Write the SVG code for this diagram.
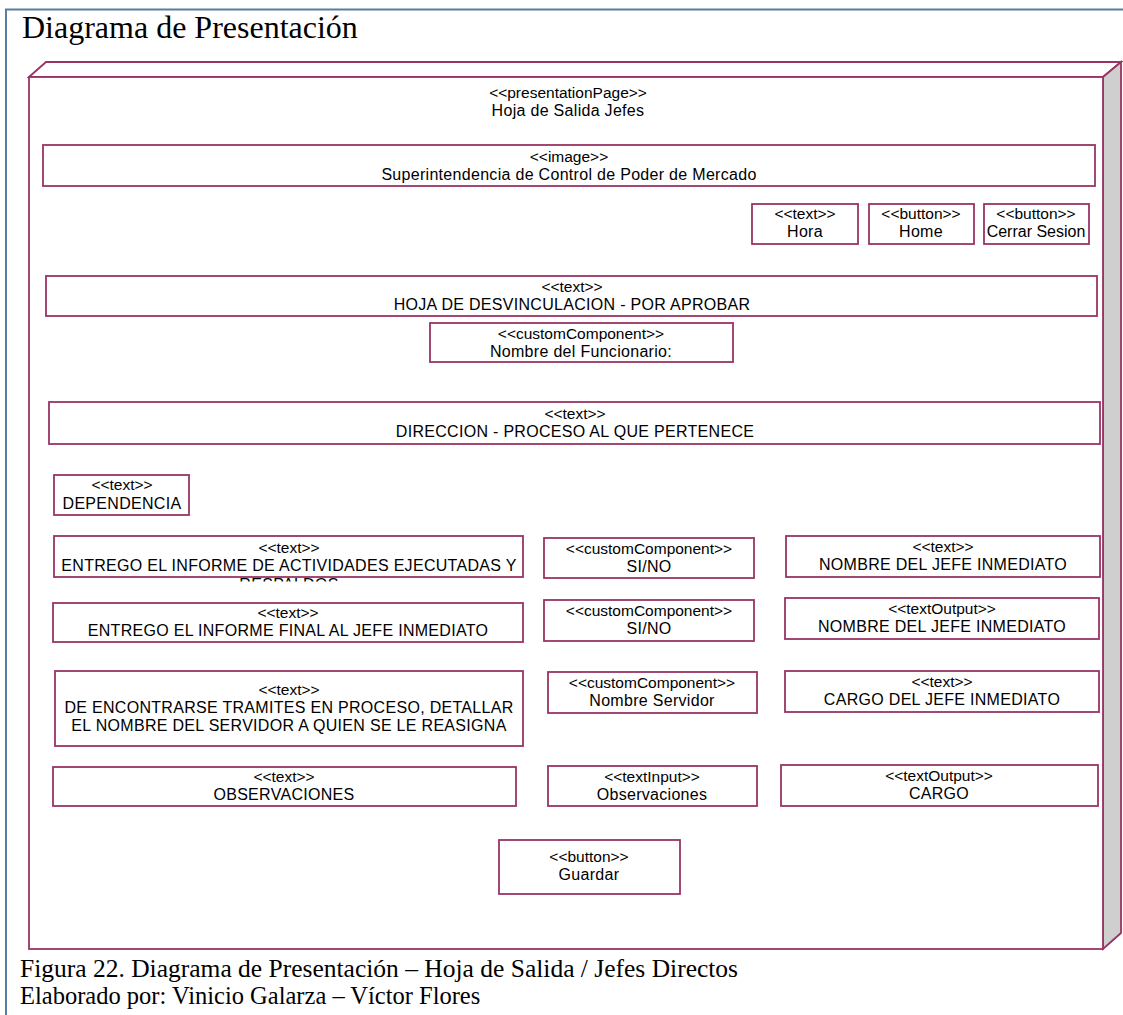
<svg xmlns="http://www.w3.org/2000/svg" width="1123" height="1015" viewBox="0 0 1123 1015">
<style>
.box{fill:#ffffff;stroke:#993366;stroke-width:1.8}
.s{font-family:"Liberation Sans",Arial,sans-serif;font-size:15.5px;fill:#000;text-anchor:middle}
.n{font-family:"Liberation Sans",Arial,sans-serif;font-size:16px;letter-spacing:0.3px;fill:#000;text-anchor:middle}
.cap{font-family:"Liberation Serif","Times New Roman",serif;fill:#000}
</style>
<defs>
<clipPath id="clipE"><rect x="40" y="520" width="500" height="61.5"/></clipPath>
</defs>
<rect x="0" y="0" width="1123" height="1015" fill="#ffffff"/>
<g id="frame">
<path d="M6,1015 V9.5 H1123" fill="none" stroke="#5a7ba3" stroke-width="2"/>
</g>
<text class="cap" x="22" y="38" font-size="32">Diagrama de Presentación</text>
<g id="page">
<polygon points="29,77 46,62 1121,62 1103,77" fill="#ffffff" stroke="#993366" stroke-width="1.8"/>
<polygon points="1103,77 1121,62 1121,933 1103,949" fill="#cfcfcf" stroke="#993366" stroke-width="1.8"/>
<rect x="29" y="77" width="1074" height="872" class="box"/>
<text class="s" x="568" y="98">&lt;&lt;presentationPage&gt;&gt;</text>
<text class="n" x="568" y="116">Hoja de Salida Jefes</text>
</g>
<g id="n_image">
<rect class="box" x="43" y="145" width="1052" height="41"/>
<text class="s" x="569" y="162">&lt;&lt;image&gt;&gt;</text>
<text class="n" x="569" y="180">Superintendencia de Control de Poder de Mercado</text>
</g>
<g id="n_hora">
<rect class="box" x="752" y="204" width="106" height="40"/>
<text class="s" x="805" y="219">&lt;&lt;text&gt;&gt;</text>
<text class="n" x="805" y="237">Hora</text>
</g>
<g id="n_home">
<rect class="box" x="869" y="204" width="105" height="40"/>
<text class="s" x="921" y="219">&lt;&lt;button&gt;&gt;</text>
<text class="n" x="921" y="237">Home</text>
</g>
<g id="n_cerrar">
<rect class="box" x="984" y="204" width="105" height="40"/>
<text class="s" x="1036" y="219">&lt;&lt;button&gt;&gt;</text>
<text class="n" x="1036" y="237" style="letter-spacing:0">Cerrar Sesion</text>
</g>
<g id="n_hoja">
<rect class="box" x="46" y="276" width="1051" height="40"/>
<text class="s" x="572" y="292">&lt;&lt;text&gt;&gt;</text>
<text class="n" x="572" y="310">HOJA DE DESVINCULACION - POR APROBAR</text>
</g>
<g id="n_funcionario">
<rect class="box" x="430" y="323" width="303" height="39"/>
<text class="s" x="581" y="339">&lt;&lt;customComponent&gt;&gt;</text>
<text class="n" x="581" y="357">Nombre del Funcionario:</text>
</g>
<g id="n_direccion">
<rect class="box" x="49" y="402" width="1051" height="42"/>
<text class="s" x="575" y="419">&lt;&lt;text&gt;&gt;</text>
<text class="n" x="575" y="437">DIRECCION - PROCESO AL QUE PERTENECE</text>
</g>
<g id="n_dependencia">
<rect class="box" x="54" y="475" width="135" height="40"/>
<text class="s" x="122" y="490">&lt;&lt;text&gt;&gt;</text>
<text class="n" x="122" y="509">DEPENDENCIA</text>
</g>
<g id="n_entrego1">
<rect class="box" x="54" y="536" width="469" height="41"/>
<text class="s" x="289" y="553">&lt;&lt;text&gt;&gt;</text>
<text class="n" x="289" y="571">ENTREGO EL INFORME DE ACTIVIDADES EJECUTADAS Y</text>
<text class="n" x="289" y="590" clip-path="url(#clipE)">RESPALDOS</text>
</g>
<g id="n_sino1">
<rect class="box" x="544" y="538" width="210" height="40"/>
<text class="s" x="649" y="554">&lt;&lt;customComponent&gt;&gt;</text>
<text class="n" x="649" y="572">SI/NO</text>
</g>
<g id="n_jefe1">
<rect class="box" x="786" y="536" width="314" height="41"/>
<text class="s" x="943" y="552">&lt;&lt;text&gt;&gt;</text>
<text class="n" x="943" y="570">NOMBRE DEL JEFE INMEDIATO</text>
</g>
<g id="n_entrego2">
<rect class="box" x="53" y="603" width="470" height="39"/>
<text class="s" x="288" y="618">&lt;&lt;text&gt;&gt;</text>
<text class="n" x="288" y="636">ENTREGO EL INFORME FINAL AL JEFE INMEDIATO</text>
</g>
<g id="n_sino2">
<rect class="box" x="544" y="600" width="210" height="41"/>
<text class="s" x="649" y="616">&lt;&lt;customComponent&gt;&gt;</text>
<text class="n" x="649" y="634">SI/NO</text>
</g>
<g id="n_jefe2">
<rect class="box" x="785" y="598" width="314" height="41"/>
<text class="s" x="942" y="614">&lt;&lt;textOutput&gt;&gt;</text>
<text class="n" x="942" y="632">NOMBRE DEL JEFE INMEDIATO</text>
</g>
<g id="n_tramites">
<rect class="box" x="55" y="671" width="468" height="75"/>
<text class="s" x="289" y="695">&lt;&lt;text&gt;&gt;</text>
<text class="n" x="289" y="713">DE ENCONTRARSE TRAMITES EN PROCESO, DETALLAR</text>
<text class="n" x="289" y="731">EL NOMBRE DEL SERVIDOR A QUIEN SE LE REASIGNA</text>
</g>
<g id="n_servidor">
<rect class="box" x="548" y="672" width="209" height="41"/>
<text class="s" x="652" y="688">&lt;&lt;customComponent&gt;&gt;</text>
<text class="n" x="652" y="706">Nombre Servidor</text>
</g>
<g id="n_cargojefe">
<rect class="box" x="785" y="671" width="314" height="41"/>
<text class="s" x="942" y="687">&lt;&lt;text&gt;&gt;</text>
<text class="n" x="942" y="705">CARGO DEL JEFE INMEDIATO</text>
</g>
<g id="n_observaciones">
<rect class="box" x="53" y="767" width="463" height="39"/>
<text class="s" x="284" y="782">&lt;&lt;text&gt;&gt;</text>
<text class="n" x="284" y="800">OBSERVACIONES</text>
</g>
<g id="n_obsinput">
<rect class="box" x="548" y="766" width="209" height="40"/>
<text class="s" x="652" y="782">&lt;&lt;textInput&gt;&gt;</text>
<text class="n" x="652" y="800">Observaciones</text>
</g>
<g id="n_cargo">
<rect class="box" x="781" y="765" width="317" height="41"/>
<text class="s" x="939" y="781">&lt;&lt;textOutput&gt;&gt;</text>
<text class="n" x="939" y="799">CARGO</text>
</g>
<g id="n_guardar">
<rect class="box" x="499" y="840" width="181" height="54"/>
<text class="s" x="589" y="862">&lt;&lt;button&gt;&gt;</text>
<text class="n" x="589" y="880">Guardar</text>
</g>
<g id="connectors"></g>
<text class="cap" x="20" y="977" font-size="25.5">Figura 22. Diagrama de Presentación – Hoja de Salida / Jefes Directos</text>
<text class="cap" x="20" y="1004" font-size="24.5">Elaborado por: Vinicio Galarza – Víctor Flores</text>
</svg>
